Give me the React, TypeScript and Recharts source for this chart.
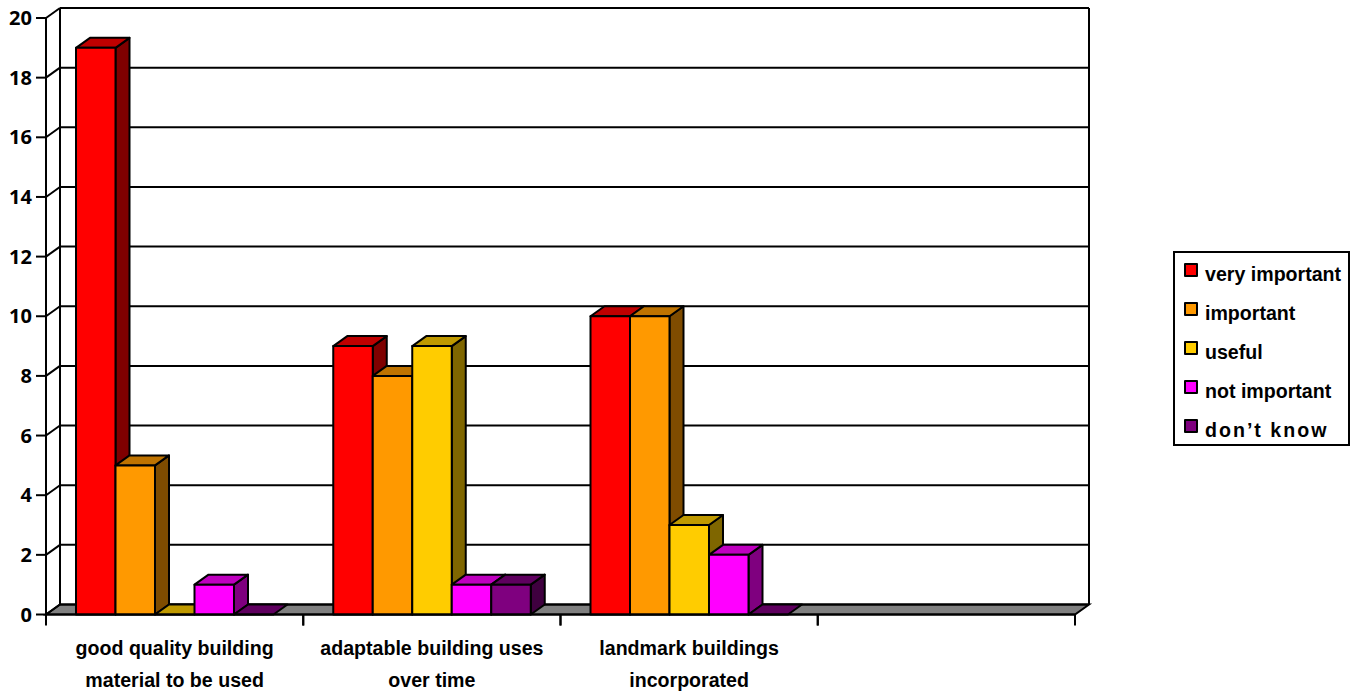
import React from "react";
import { BarChart, Bar, XAxis, YAxis, CartesianGrid, Legend } from "recharts";

const categories = ["good quality building|material to be used", "adaptable building uses|over time", "landmark buildings|incorporated", ""];
const veryImportant = [19, 9, 10, null];
const important = [5, 8, 10, null];
const useful = [0, 9, 3, null];
const notImportant = [1, 1, 2, null];
const dontKnow = [0, 1, 0, null];
const yTicks = [0, 2, 4, 6, 8, 10, 12, 14, 16, 18, 20];

const seriesList = [
  { name: "very important", key: "veryImportant", fill: "#FF0000", top: "#BF0000", side: "#7F0000" },
  { name: "important", key: "important", fill: "#FF9900", top: "#BF7300", side: "#7F4C00" },
  { name: "useful", key: "useful", fill: "#FFCC00", top: "#BF9900", side: "#7F6600" },
  { name: "not important", key: "notImportant", fill: "#FF00FF", top: "#BF00BF", side: "#7F007F" },
  { name: "don\u2019t know", key: "dontKnow", fill: "#7F007F", top: "#5F005F", side: "#3F003F" },
];

const chartData = categories.map((label, i) => ({
  label,
  veryImportant: veryImportant[i],
  important: important[i],
  useful: useful[i],
  notImportant: notImportant[i],
  dontKnow: dontKnow[i],
}));

// depth of the fake 3D projection
const DX = 14;
const DY = 10;
const FONT = "'Liberation Sans', Arial, sans-serif";

const Cuboid = (props: any) => {
  const { x, y, width, height, value, top, side, fill } = props;
  if (value === null || value === undefined) return null;
  const b = y + height;
  const r = x + width;
  return (
    <g stroke="#000" strokeWidth={2} strokeLinejoin="round">
      {height > 0 && (
        <polygon points={`${r},${y} ${r + DX},${y - DY} ${r + DX},${b - DY} ${r},${b}`} fill={side} />
      )}
      <polygon points={`${x},${y} ${x + DX},${y - DY} ${r + DX},${y - DY} ${r},${y}`} fill={top} />
      {height > 0 && <rect x={x} y={y} width={width} height={height} fill={fill} />}
    </g>
  );
};

// walls and floor hang off the grid lines so they follow the y scale
const WallLine = (props: any) => {
  const { x1, x2, y1, y, height, index } = props;
  const atFloor = Math.abs(y1 - (y + height)) < 1;
  return (
    <g key={`wall-${index}`} stroke="#000" strokeWidth={2} fill="none">
      {atFloor && (
        <>
          <polygon
            points={`${x1},${y1} ${x1 + DX},${y1 - DY} ${x2 + DX},${y1 - DY} ${x2},${y1}`}
            fill="#808080"
          />
          <line x1={x1 + DX} y1={y - DY} x2={x1 + DX} y2={y1 - DY} />
          <line x1={x2 + DX} y1={y - DY} x2={x2 + DX} y2={y1 - DY} />
        </>
      )}
      <line x1={x1} y1={y1} x2={x1 + DX} y2={y1 - DY} />
      <line x1={x1 + DX} y1={y1 - DY} x2={x2 + DX} y2={y1 - DY} />
    </g>
  );
};

const CategoryTick = (props: any) => {
  const { x, y, payload, width } = props;
  const band = width / categories.length;
  const lines = String(payload.value).split("|");
  return (
    <g>
      <line x1={x - band / 2} y1={y} x2={x - band / 2} y2={y + 11} stroke="#000" strokeWidth={2} />
      <line x1={x + band / 2} y1={y} x2={x + band / 2} y2={y + 11} stroke="#000" strokeWidth={2} />
      {lines.map((line, i) => (
        <text
          key={i}
          x={x}
          y={y + 40.5 + i * 31.5}
          textAnchor="middle"
          fontFamily={FONT}
          fontWeight={700}
          fontSize={19.6}
          fill="#000"
        >
          {line}
        </text>
      ))}
    </g>
  );
};

const LegendBox = ({ payload }: any) => (
  <div
    style={{
      position: "relative",
      width: 173,
      height: 191,
      border: "2px solid #000",
      background: "#fff",
      fontFamily: FONT,
      fontWeight: 700,
      fontSize: 19.6,
      color: "#000",
    }}
  >
    {(payload || []).map((item: any, i: number) => (
      <div key={item.value} style={{ position: "absolute", left: 0, top: 10 + i * 39, height: 16, whiteSpace: "nowrap" }}>
        <span
          style={{
            position: "absolute",
            left: 9,
            top: 0,
            width: 10,
            height: 10,
            border: "2px solid #000",
            borderRadius: 1,
            background: item.color,
          }}
        />
        <span
          style={{
            position: "absolute",
            left: 30,
            top: 1,
            lineHeight: "20px",
            letterSpacing: i === 4 ? 2 : 0,
          }}
        >
          {item.value}
        </span>
      </div>
    ))}
  </div>
);

export default function App() {
  return (
    <div style={{ position: "absolute", left: 0, top: 0, width: 1361, height: 693, background: "#fff" }}>
      <BarChart
        width={1361}
        height={693}
        data={chartData}
        margin={{ top: 18, right: 286, left: 0, bottom: 0 }}
        barSize={39.5}
        barGap={0}
      >
        <CartesianGrid horizontal={WallLine} vertical={false} />
        <XAxis
          dataKey="label"
          height={78.5}
          interval={0}
          tickSize={0}
          tickMargin={0}
          axisLine={{ stroke: "#000", strokeWidth: 2 }}
          tickLine={false}
          tick={CategoryTick}
        />
        <YAxis
          width={46}
          domain={[0, 20]}
          ticks={yTicks}
          interval={0}
          tickSize={10}
          tickMargin={4}
          axisLine={{ stroke: "#000", strokeWidth: 2 }}
          tickLine={{ stroke: "#000", strokeWidth: 2 }}
          tick={{ fill: "#000", fontFamily: "'Noto Sans', sans-serif", fontWeight: 700, fontSize: 20 }}
        />
        <Legend
          layout="horizontal"
          align="center"
          verticalAlign="middle"
          itemSorter={null}
          content={LegendBox}
          wrapperStyle={{ left: 1173, top: 251, width: 177, height: 195 }}
        />
        {seriesList.map((s) => (
          <Bar
            key={s.key}
            dataKey={s.key}
            name={s.name}
            fill={s.fill}
            isAnimationActive={false}
            shape={(p: any) => <Cuboid {...p} fill={s.fill} top={s.top} side={s.side} />}
          />
        ))}
      </BarChart>
    </div>
  );
}
